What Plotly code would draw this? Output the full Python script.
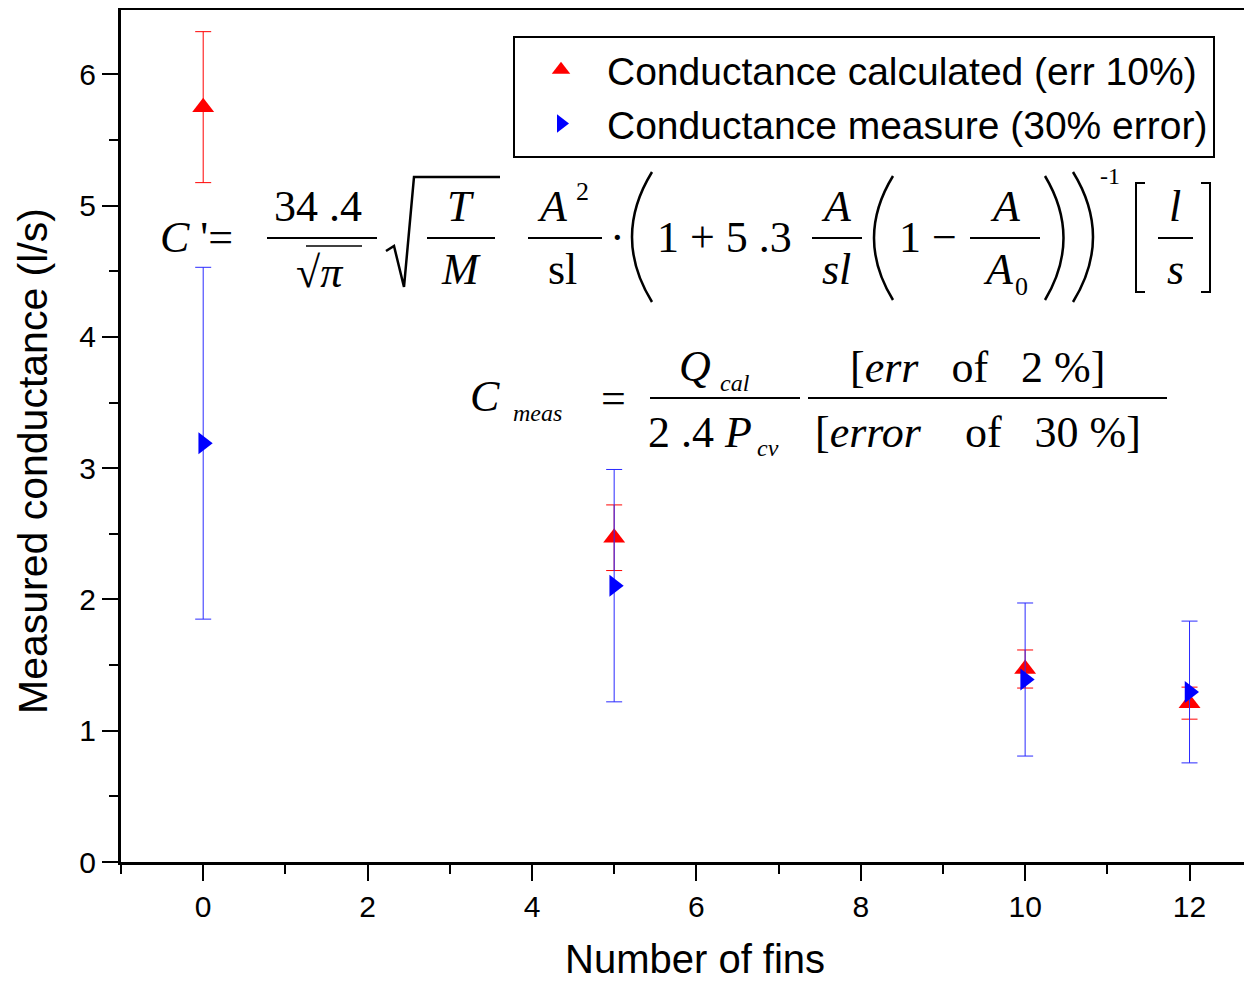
import plotly.graph_objects as go

# ---------------- data ----------------
fins = [0, 5, 10, 12]
calc_values = [5.75, 2.47, 1.47, 1.21]
calc_err = [0.575, 0.25, 0.145, 0.122]
meas_values = [3.19, 2.105, 1.39, 1.295]
meas_err = [1.34, 0.885, 0.583, 0.54]
calc_name = "Conductance calculated (err 10%)"
meas_name = "Conductance measure (30% error)"
x_title = "Number of fins"
y_title = "Measured conductance (l/s)"

OFF = 8  # page body margin
W, H = 1252 - OFF, 986 - OFF
# plot area in page pixels
L, R, T, B = 121, 1252, 10, 862


def px(x):
    return (x - L) / (R - L)


def py(y):
    return (B - y) / (B - T)


fig = go.Figure()
fig.add_trace(go.Scatter(
    x=fins, y=calc_values, mode="markers", name=calc_name,
    marker=dict(symbol="triangle-up", size=19, color="#ff0000"),
    error_y=dict(type="data", array=calc_err, color="#ff0000", thickness=1, width=8),
))
fig.add_trace(go.Scatter(
    x=fins, y=meas_values, mode="markers", name=meas_name,
    marker=dict(symbol="triangle-right", size=19, color="#0000ff"),
    error_y=dict(type="data", array=meas_err, color="#2a2aff", thickness=1, width=8),
))

ann = []
shapes = []
SERIF = "Liberation Serif"


def txt(s, x, y, size=44, xanchor="center"):
    ann.append(dict(text=s, x=px(x), y=py(y), xref="paper", yref="paper",
                    xanchor=xanchor, yanchor="middle", showarrow=False,
                    font=dict(family=SERIF, size=size, color="black")))


def hline(x0, x1, y, w=2):
    shapes.append(dict(type="line", xref="paper", yref="paper",
                       x0=px(x0), x1=px(x1), y0=py(y), y1=py(y),
                       line=dict(color="black", width=w)))


def path(pts, w=2, curve=False):
    if curve:
        (a, b, c) = pts
        d = "M %f,%f Q %f,%f %f,%f" % (px(a[0]), py(a[1]), px(b[0]), py(b[1]), px(c[0]), py(c[1]))
    else:
        d = "M " + " L ".join("%f,%f" % (px(p[0]), py(p[1])) for p in pts)
    shapes.append(dict(type="path", xref="paper", yref="paper", path=d,
                       line=dict(color="black", width=w)))


# ---- equation 1 ----
txt("<i>C</i> '=", 158, 237, xanchor="left")
txt("34 .4", 318, 207)
hline(267, 377, 238)
txt("\u221a<i>\u03c0</i>", 320, 272)
hline(306, 362, 246, 1.5)
path([(386, 251), (394, 246), (404, 287), (414, 177), (500, 177)], 2.5)
txt("<i>T</i>", 461, 207)
txt("<i>M</i>", 461, 270)
hline(427, 495, 238)
txt("<i>A</i>", 552, 207)
txt("2", 582, 192, 26)
txt("sl", 562, 270)
hline(528, 602, 238)
txt("\u00b7", 617, 237)
path([(652, 172), (612, 237), (652, 302)], 2.5, curve=True)
txt("1 + 5 .3", 655, 237, xanchor="left")
txt("<i>A</i>", 836, 207)
txt("<i>sl</i>", 836, 270)
hline(812, 862, 238)
path([(893, 176), (855, 238), (893, 300)], 2.5, curve=True)
txt("1 \u2212", 897, 237, xanchor="left")
txt("<i>A</i>", 1005, 207)
txt("<i>A</i>", 998, 270)
txt("0", 1021, 286, 26)
hline(970, 1040, 238)
path([(1045, 176), (1082, 238), (1045, 300)], 2.5, curve=True)
path([(1073, 172), (1113, 237), (1073, 302)], 2.5, curve=True)
txt("-1", 1110, 176, 24)
path([(1145, 183), (1136, 183), (1136, 292), (1145, 292)], 2)
path([(1201, 183), (1210, 183), (1210, 292), (1201, 292)], 2)
txt("<i>l</i>", 1175, 207)
txt("<i>s</i>", 1175, 270)
hline(1158, 1193, 238)

# ---- equation 2 ----
txt("<i>C</i>", 485, 397)
txt("<i>meas</i>", 537, 413, 24)
txt("=", 613, 398)
txt("<i>Q</i>", 695, 366)
txt("<i>cal</i>", 735, 383, 24)
hline(650, 800, 398)
txt("2 .4 <i>P</i>", 700, 432)
txt("<i>cv</i>", 768, 448, 24)
hline(808, 1167, 398)
nb = "\u00a0"
txt("[<i>err</i>" + nb * 3 + "of" + nb * 3 + "2 %]", 978, 368)
txt("[<i>error</i>" + nb * 4 + "of" + nb * 3 + "30 %]", 978, 432)

# ---- axis titles ----
ann.append(dict(text=y_title, x=px(33), y=py(461), xref="paper", yref="paper",
                textangle=-90, showarrow=False, xanchor="center", yanchor="middle",
                font=dict(family="Liberation Sans", size=41, color="black")))
ann.append(dict(text=x_title, x=px(695), y=py(959), xref="paper", yref="paper",
                showarrow=False, xanchor="center", yanchor="middle",
                font=dict(family="Liberation Sans", size=40, color="black")))

fig.update_layout(
    width=W, height=H,
    margin=dict(l=L - OFF, r=0, t=T - OFF, b=H - (B - OFF)),
    paper_bgcolor="white", plot_bgcolor="white",
    showlegend=True,
    legend=dict(x=px(513), y=py(36), xanchor="left", yanchor="top",
                bgcolor="white", bordercolor="black", borderwidth=2,
                font=dict(family="Liberation Sans", size=39, color="black"),
                itemwidth=82, tracegroupgap=0),
    annotations=ann, shapes=shapes,
    font=dict(family="Liberation Sans", color="black"),
)
fig.update_xaxes(
    range=[-1, 12.76], showgrid=False, zeroline=False,
    showline=True, linecolor="black", linewidth=3, mirror=True,
    ticks="outside", ticklen=16, tickwidth=2, tickcolor="black",
    tick0=0, dtick=2, tickfont=dict(size=30, color="black"),
    minor=dict(dtick=1, ticks="outside", ticklen=9, tickwidth=2, tickcolor="black"),
)
fig.update_yaxes(
    range=[0, 6.49], showgrid=False, zeroline=False,
    showline=True, linecolor="black", linewidth=3,
    ticks="outside", ticklen=16, tickwidth=2, tickcolor="black",
    tick0=0, dtick=1, tickfont=dict(size=30, color="black"),
    minor=dict(dtick=0.5, ticks="outside", ticklen=9, tickwidth=2, tickcolor="black"),
)

fig.write_html("out.html")
